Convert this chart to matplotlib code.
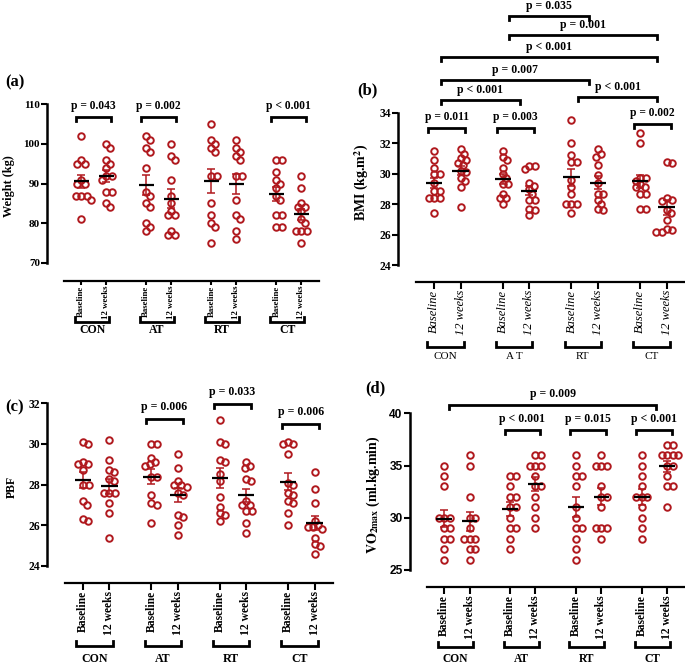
import numpy as np
import matplotlib
matplotlib.use('Agg')
import matplotlib.pyplot as plt
from matplotlib.transforms import blended_transform_factory

plt.rcParams['font.family'] = ['Liberation Serif', 'DejaVu Sans']
plt.rcParams['mathtext.fontset'] = 'stix'

# ---- data ----
groups = ['CON', 'AT', 'RT', 'CT']
time_labels = ['Baseline', '12 weeks']

weight_con_base = [102, 96, 95, 95, 91, 90, 90, 87, 87, 87, 86, 81]
weight_con_12wk = [100, 99, 96, 95, 94, 92, 92, 91, 88, 88, 85, 84]
weight_at_base = [102, 101, 99, 98, 94, 88, 87, 85, 84, 80, 79, 78]
weight_at_12wk = [100, 97, 96, 91, 87, 85, 83, 82, 82, 78, 77, 77]
weight_rt_base = [105, 101, 100, 99, 98, 92, 92, 85, 82, 80, 79, 75]
weight_rt_12wk = [101, 99, 98, 97, 96, 92, 92, 86, 82, 81, 78, 76]
weight_ct_base = [96, 96, 93, 91, 90, 89, 87, 86, 82, 82, 79, 79]
weight_ct_12wk = [92, 89, 85, 84, 84, 83, 81, 80, 78, 78, 78, 75]
weight_p = ['p = 0.043', 'p = 0.002', None, 'p < 0.001']

bmi_con_base = [31.5, 30.9, 30.4, 30.0, 30.0, 29.4, 28.9, 28.9, 28.4, 28.4, 28.4, 27.4]
bmi_con_12wk = [31.6, 31.3, 31.0, 30.9, 30.7, 30.6, 30.2, 30.1, 29.7, 29.5, 29.1, 27.8]
bmi_at_base = [31.5, 31.1, 30.9, 30.4, 30.0, 29.7, 29.3, 29.3, 28.7, 28.4, 28.4, 28.0]
bmi_at_12wk = [30.5, 30.5, 30.3, 29.4, 29.2, 29.0, 28.7, 28.3, 28.3, 27.7, 27.6, 27.3]
bmi_rt_base = [33.5, 32.0, 31.2, 30.8, 30.8, 29.6, 29.1, 28.7, 28.0, 28.0, 28.0, 27.4]
bmi_rt_12wk = [31.6, 31.3, 31.1, 30.6, 29.9, 29.4, 28.7, 28.7, 28.3, 28.0, 27.7, 27.6]
bmi_ct_base = [32.7, 32.0, 29.7, 29.7, 29.5, 29.3, 29.1, 29.1, 28.7, 28.7, 27.7, 27.7]
bmi_ct_12wk = [30.8, 30.7, 28.4, 28.3, 28.2, 27.6, 27.4, 27.0, 26.4, 26.3, 26.2, 26.2]
bmi_p = ['p = 0.011', 'p = 0.003', None, 'p = 0.002']
bmi_between = [(0, 1, 'p < 0.001'), (2, 3, 'p < 0.001'), (0, 2, 'p = 0.007'),
               (0, 3, 'p < 0.001'), (1, 3, 'p = 0.001'), (1, 2, 'p = 0.035')]

pbf_con_base = [30.1, 30.0, 29.1, 29.0, 29.0, 28.7, 28.0, 28.0, 27.2, 27.0, 26.3, 26.2]
pbf_con_12wk = [30.2, 29.2, 28.7, 28.6, 28.3, 28.2, 27.6, 27.6, 27.6, 27.1, 26.6, 25.4]
pbf_at_base = [30.0, 30.0, 29.3, 29.1, 29.0, 28.9, 28.4, 28.4, 27.5, 27.1, 27.0, 26.1]
pbf_at_12wk = [29.5, 28.8, 28.2, 28.0, 28.0, 27.9, 27.6, 27.5, 26.5, 26.4, 26.0, 25.5]
pbf_rt_base = [31.2, 30.1, 30.0, 29.2, 29.1, 28.5, 28.2, 27.4, 26.9, 26.6, 26.5, 26.2]
pbf_rt_12wk = [29.1, 28.9, 28.8, 28.3, 28.2, 27.2, 27.0, 27.0, 26.7, 26.7, 26.1, 25.6]
pbf_ct_base = [30.1, 30.0, 30.0, 29.5, 28.1, 28.0, 27.6, 27.5, 27.2, 27.1, 26.6, 26.0]
pbf_ct_12wk = [28.6, 27.8, 27.1, 26.2, 26.0, 25.9, 25.9, 25.8, 25.4, 25.1, 25.0, 24.6]
pbf_p = [None, 'p = 0.006', 'p = 0.033', 'p = 0.006']

vo2_con_base = [35, 34, 33, 30, 30, 30, 29, 29, 28, 28, 27, 26]
vo2_con_12wk = [36, 35, 32, 30, 30, 29, 28, 28, 28, 27, 27, 26]
vo2_at_base = [34, 34, 33, 32, 32, 31, 31, 30, 29, 29, 28, 27]
vo2_at_12wk = [36, 36, 35, 35, 35, 34, 33, 33, 32, 31, 30, 29]
vo2_rt_base = [36, 35, 34, 34, 33, 31, 30, 29, 29, 28, 27, 26]
vo2_rt_12wk = [36, 35, 35, 35, 33, 32, 32, 31, 29, 29, 29, 28]
vo2_ct_base = [36, 35, 34, 33, 32, 32, 32, 31, 30, 29, 28]
vo2_ct_12wk = [37, 37, 36, 36, 36, 36, 35, 35, 34, 33, 33, 31]
vo2_p = [None, 'p < 0.001', 'p = 0.015', 'p < 0.001']
vo2_between = [(0, 3, 'p = 0.009')]

# ---- layout ----
W, H = 685, 667
RED = '#B0191E'
XPOS = [0, 1, 2.6, 3.6, 5.2, 6.2, 7.8, 8.8]
CENTERS = [0.5, 3.1, 5.7, 8.3]

fig = plt.figure(figsize=(W / 100, H / 100), dpi=100)


def make_axes(left, right, top, bottom, line_y, ylim, yticks):
    ax = fig.add_axes([left / W, 1 - bottom / H, (right - left) / W, (bottom - top) / H])
    ax.set_xlim(-1.37, 9.5)
    ax.set_ylim(*ylim)
    ax.set_yticks(yticks)
    for s in ['top', 'right']:
        ax.spines[s].set_visible(False)
    ax.spines['left'].set_linewidth(1.8)
    ax.spines['bottom'].set_linewidth(1.6)
    ax.spines['bottom'].set_position(('outward', (line_y - bottom) * 0.72))
    ax.spines['bottom'].set_bounds(-0.68, 9.5)
    ax.patch.set_visible(False)
    ax.tick_params(axis='y', length=4, width=1.5, pad=1)
    ax.tick_params(axis='x', length=5, width=1.5, pad=1)
    return ax


def swarm(ax, vals, d_px=5.5):
    p0 = ax.transData.transform((0, 0))
    p1 = ax.transData.transform((1, 1))
    ppx, ppy = p1[0] - p0[0], p1[1] - p0[1]
    ys = np.asarray(vals, float) * ppy
    xs = np.zeros(len(ys))
    placed = []
    for i in np.argsort(-ys, kind='stable'):
        y = ys[i]
        cands = [0.0]
        for px, py in placed:
            dy = y - py
            if abs(dy) < d_px:
                dx = np.sqrt(d_px ** 2 - dy ** 2)
                cands += [px + dx, px - dx]
        cands.sort(key=abs)
        for c in cands:
            if all((c - px) ** 2 + (y - py) ** 2 >= d_px ** 2 - 1e-6 for px, py in placed):
                xs[i] = c
                placed.append((c, y))
                break
    return xs / ppx


def draw_series(ax, series):
    for x, vals in zip(XPOS, series):
        vals = np.asarray(vals, float)
        off = swarm(ax, vals)
        ax.plot(x + off, vals, 'o', mfc='none', mec=RED, ms=4.7, mew=1.4, zorder=2, clip_on=False)
        m = vals.mean()
        sem = vals.std(ddof=1) / np.sqrt(len(vals))
        ax.errorbar(x, m, yerr=sem, color=RED, lw=1.1, capsize=3, capthick=1.1, zorder=3)
        ax.plot([x - 0.31, x + 0.31], [m, m], color='black', lw=1.6, zorder=4, solid_capstyle='butt')


def p_bracket(ax, xa, xb, y, text, fs, gap=8, leg_px=4):
    p0 = ax.transData.transform((0, 0))
    p1 = ax.transData.transform((0, 1))
    ppy = p1[1] - p0[1]
    yl = y - leg_px / ppy
    ax.plot([xa, xa, xb, xb], [yl, y, y, yl], color='black', lw=2, clip_on=False,
            solid_joinstyle='miter', zorder=5)
    ax.annotate(text, ((xa + xb) / 2, y), xytext=(0, gap), textcoords='offset points',
                ha='center', va='center', fontsize=fs, fontweight='bold', annotation_clip=False)


def group_axis(ax, tick_fs, tick_style, group_fs, group_weight, br_y, lab_y, names, tick_len=5):
    tick_weight = 'normal' if tick_style == 'italic' else 'bold'
    ax.tick_params(axis='x', length=tick_len, pad=0.5)
    ax.set_xticks(XPOS, time_labels * 4, rotation=90, fontsize=tick_fs,
                  fontstyle=tick_style, fontweight=tick_weight)
    tr = blended_transform_factory(ax.transData, fig.transFigure)
    for k, c in enumerate(CENTERS):
        xa, xb = XPOS[2 * k] - 0.26, XPOS[2 * k + 1] + 0.12
        yb, yl = 1 - br_y / H, 1 - (br_y - 5) / H
        ax.plot([xa, xa, xb, xb], [yl, yb, yb, yl], transform=tr, color='black', lw=2,
                clip_on=False, solid_joinstyle='miter')
        ax.text((xa + xb) / 2, 1 - lab_y / H, names[k], transform=tr, ha='center', va='center',
                fontsize=group_fs, fontweight=group_weight)


def bold_yticks(ax, fs, family=None):
    ax.tick_params(axis='y', labelsize=fs)
    for lbl in ax.get_yticklabels():
        lbl.set_fontweight('bold')
        if family:
            lbl.set_family(family)


# ---- (a) Weight ----
axa = make_axes(47, 319, 104.3, 263, 281, (70, 110), [70, 80, 90, 100, 110])
bold_yticks(axa, 8)
draw_series(axa, [weight_con_base, weight_con_12wk, weight_at_base, weight_at_12wk,
                  weight_rt_base, weight_rt_12wk, weight_ct_base, weight_ct_12wk])
for k, t in enumerate(weight_p):
    if t:
        p_bracket(axa, XPOS[2 * k] - 0.22, XPOS[2 * k + 1] + 0.18, 106.8, t, 8.3)
group_axis(axa, 6.3, 'normal', 8.5, 'bold', 322, 330, groups, tick_len=3)
fig.text(9 / W, 1 - 186 / H, 'Weight (kg)', rotation=90, ha='center', va='center',
         fontsize=8.8, fontweight='bold')
fig.text(5 / W, 1 - 82 / H, '(a)', ha='left', va='center', fontsize=12, fontweight='bold')

# ---- (b) BMI ----
axb = make_axes(398, 685, 112.7, 265.3, 282, (24, 34), [24, 26, 28, 30, 32, 34])
bold_yticks(axb, 8.4)
draw_series(axb, [bmi_con_base, bmi_con_12wk, bmi_at_base, bmi_at_12wk,
                  bmi_rt_base, bmi_rt_12wk, bmi_ct_base, bmi_ct_12wk])
for k, (t, yb) in enumerate(zip(bmi_p, [33.02, 33.02, None, 33.26])):
    if t:
        p_bracket(axb, XPOS[2 * k] - 0.22, XPOS[2 * k + 1] + 0.18, yb, t, 8.3, gap=7.7)
for (i, j, t), yb in zip(bmi_between, [34.83, 35.03, 36.14, 37.67, 39.09, 40.36]):
    p_bracket(axb, CENTERS[i] - 0.25, CENTERS[j] + 0.15, yb, t, 8.5, gap=7.2)
group_axis(axb, 9, 'italic', 8, 'normal', 347, 357, ['CON', 'A T', 'RT', 'CT'])
fig.text(362 / W, 1 - 182 / H, 'BMI (kg.m$^{\\mathbf{2}}$)', rotation=90, ha='center', va='center',
         fontsize=10, fontweight='bold')
fig.text(357 / W, 1 - 90 / H, '(b)', ha='left', va='center', fontsize=12, fontweight='bold')

# ---- (c) PBF ----
axc = make_axes(47, 333, 403.3, 566, 583.3, (24, 32), [24, 26, 28, 30, 32])
bold_yticks(axc, 8.4)
draw_series(axc, [pbf_con_base, pbf_con_12wk, pbf_at_base, pbf_at_12wk,
                  pbf_rt_base, pbf_rt_12wk, pbf_ct_base, pbf_ct_12wk])
for k, (t, yb) in enumerate(zip(pbf_p, [None, 31.23, 31.97, 30.98])):
    if t:
        p_bracket(axc, XPOS[2 * k] - 0.22, XPOS[2 * k + 1] + 0.18, yb, t, 8.6, gap=8.6)
group_axis(axc, 8.4, 'normal', 8.6, 'bold', 646, 659, groups)
fig.text(12 / W, 1 - 487 / H, 'PBF', rotation=90, ha='center', va='center',
         fontsize=8.5, fontweight='bold')
fig.text(5 / W, 1 - 407 / H, '(c)', ha='left', va='center', fontsize=12, fontweight='bold')

# ---- (d) VO2max ----
axd = make_axes(409.5, 685, 413.3, 570, 587.3, (25, 40), [25, 30, 35, 40])
bold_yticks(axd, 8.6, family='Liberation Sans')
draw_series(axd, [vo2_con_base, vo2_con_12wk, vo2_at_base, vo2_at_12wk,
                  vo2_rt_base, vo2_rt_12wk, vo2_ct_base, vo2_ct_12wk])
for k, t in enumerate(vo2_p):
    if t:
        p_bracket(axd, XPOS[2 * k] - 0.22, XPOS[2 * k + 1] + 0.18, 38.4, t, 8.5)
for i, j, t in vo2_between:
    p_bracket(axd, CENTERS[i] - 0.3, CENTERS[j] + 0.05, 40.8, t, 8.5)
group_axis(axd, 8.3, 'normal', 8.3, 'bold', 647, 659, groups)
fig.text(373 / W, 1 - 495 / H, '$\\mathbf{VO}_{\\mathbf{2max}}$ (ml.kg.min)', rotation=90,
         ha='center', va='center', fontsize=10, fontweight='bold')
fig.text(365 / W, 1 - 388 / H, '(d)', ha='left', va='center', fontsize=12, fontweight='bold')

fig.savefig('out.png', dpi=100)
